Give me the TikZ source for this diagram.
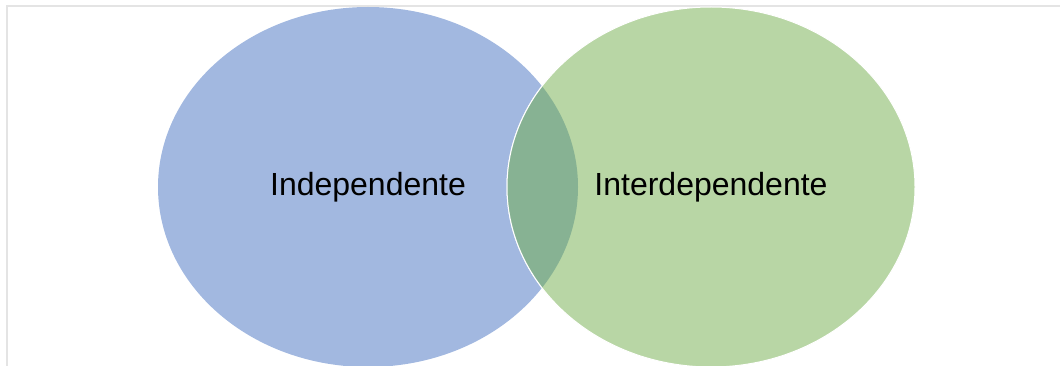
\documentclass[tikz,border=0pt]{standalone}
\usepackage{fontspec}
\setmainfont{Liberation Sans}
\usetikzlibrary{shapes.geometric}
\definecolor{setblue}{HTML}{A2B8E0}
\definecolor{setgreen}{HTML}{B8D6A5}
\definecolor{setlens}{HTML}{87B293}
\definecolor{framegray}{HTML}{E4E4E4}

\begin{document}
\begin{tikzpicture}[
        x=1pt, y=-1pt,
        set/.style={ellipse, inner sep=0pt, minimum height=360pt, font=\fontsize{32}{38}\selectfont},
        frameline/.style={draw=framegray, line width=2pt}
    ]
    \useasboundingbox (0,0) rectangle (1060,366);
    % --- FRAME ---
    \draw[frameline] (7,366) |- (1060,6);

    % --- SETS ---
    \node[set, minimum width=420pt, fill=setblue] (indep) at (368,187) {Independente};
    \node[set, minimum width=408pt, fill=setgreen, draw=white, line width=1pt] (interdep) at (711,187) {Interdependente};

    % --- OVERLAP ---
    \begin{scope}
        \clip (indep.center) ellipse [x radius=210pt, y radius=180pt];
        \fill[setlens, draw=white, line width=1pt] (interdep.center) ellipse [x radius=204pt, y radius=180pt];
    \end{scope}
\end{tikzpicture}
\end{document}
